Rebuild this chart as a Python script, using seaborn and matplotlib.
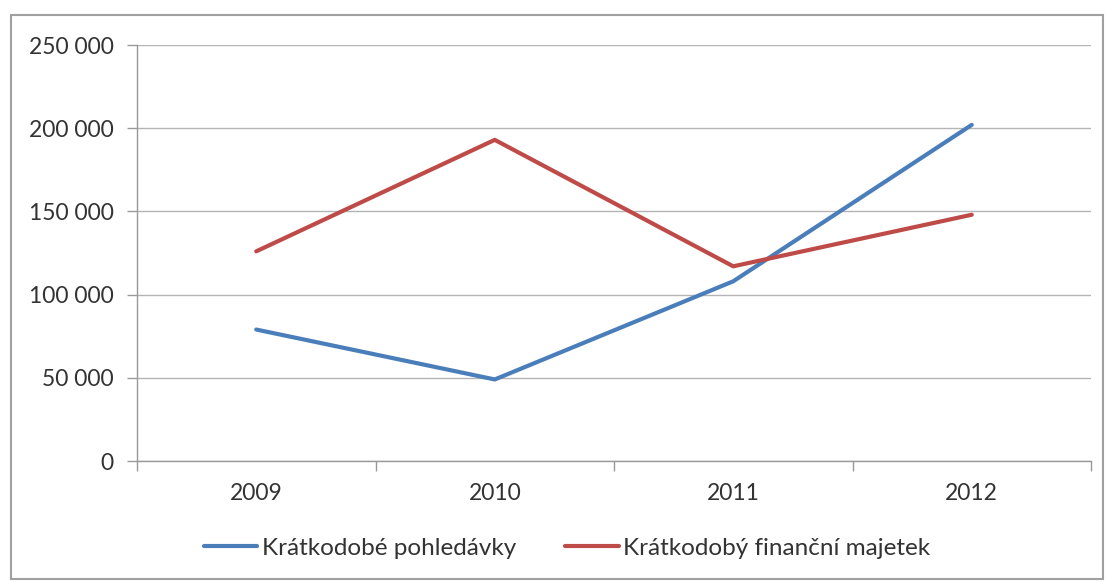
import pandas as pd
import numpy as np
import matplotlib
matplotlib.use("Agg")
import matplotlib.pyplot as plt
from matplotlib.ticker import FixedLocator, FuncFormatter
from matplotlib.patches import Rectangle
import seaborn as sns

# data
years = ["2009", "2010", "2011", "2012"]
pohledavky = [79000, 49000, 108000, 202000]
majetek = [126000, 193000, 117000, 148000]
series_names = ["Krátkodobé pohledávky", "Krátkodobý finanční majetek"]
y_ticks = [0, 50000, 100000, 150000, 200000, 250000]

df = pd.DataFrame({
    "rok": years * 2,
    "hodnota": pohledavky + majetek,
    "rada": [series_names[0]] * len(years) + [series_names[1]] * len(years),
})

sns.set_style("white")
plt.rcParams["font.family"] = ["Lato", "DejaVu Sans"]

fig = plt.figure(figsize=(11.08, 5.83), dpi=100)
ax = fig.add_axes([137 / 1108, 1 - 461 / 583, (1091 - 137) / 1108, (461 - 45) / 583])

sns.lineplot(data=df, x="rok", y="hodnota", hue="rada", sort=False,
             palette=["#4a7ebb", "#be4b48"], linewidth=3, ax=ax)

ax.set_xlim(-0.5, 3.5)
ax.set_ylim(0, 250000)
ax.set_xlabel("")
ax.set_ylabel("")

ax.yaxis.set_major_locator(FixedLocator(y_ticks))
ax.yaxis.set_major_formatter(FuncFormatter(lambda v, p: f"{int(v):,}".replace(",", " ")))
ax.grid(axis="y", color="#b4b4b4", linewidth=1)
ax.set_axisbelow(True)

# category boundary ticks like a spreadsheet chart
ax.xaxis.set_minor_locator(FixedLocator(np.arange(-0.5, 4, 1)))
ax.tick_params(axis="x", which="major", length=0, labelsize=16.5, pad=16, colors="#333333")
ax.tick_params(axis="x", which="minor", length=7, width=1, color="#999999", direction="out", bottom=True)
ax.tick_params(axis="y", which="major", length=7, width=1, color="#999999", direction="out",
               left=True, labelsize=16.5, pad=10, labelcolor="#333333")

for s in ["top", "right"]:
    ax.spines[s].set_visible(False)
ax.spines["left"].set_color("#999999")
ax.spines["bottom"].set_color("#999999")
ax.spines["left"].set_linewidth(1)
ax.spines["bottom"].set_linewidth(1)

ax.legend(loc="center", bbox_to_anchor=(0.512, 1 - 548 / 583), bbox_transform=fig.transFigure,
          ncol=2, frameon=False, fontsize=17.5, handlelength=2.2, handletextpad=0.2,
          columnspacing=2.0, labelcolor="#333333")

fig.patches.append(Rectangle((11 / 1108, 1 - 579 / 583), (1103 - 11) / 1108, (579 - 15) / 583,
                             transform=fig.transFigure, fill=False, edgecolor="#a0a0a0",
                             linewidth=1.5))

fig.savefig("out.png", dpi=100)
